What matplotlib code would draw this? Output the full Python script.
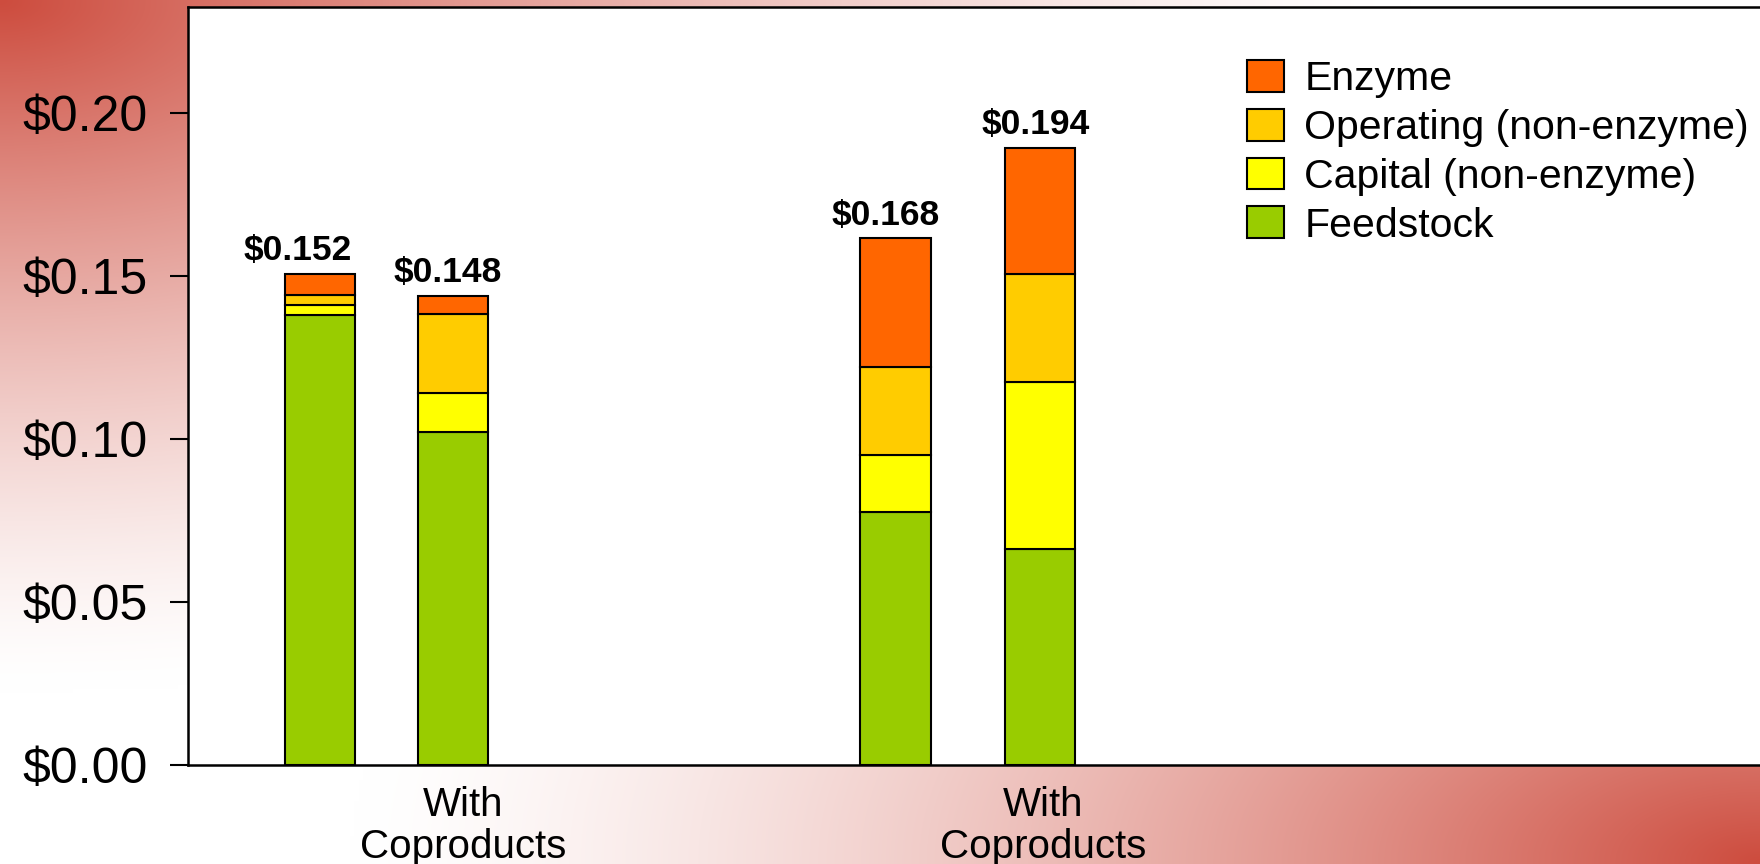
import matplotlib
matplotlib.use("Agg")
import matplotlib.pyplot as plt
import numpy as np

plt.rcParams['font.family'] = ['Liberation Sans', 'DejaVu Sans']

# cost components ($ per unit)
cost_labels = ["$0.152", "$0.148", "$0.168", "$0.194"]
feedstock = [0.1379, 0.1022, 0.0777, 0.0662]
capital = [0.0032, 0.0120, 0.0173, 0.0512]
operating = [0.0032, 0.0240, 0.0272, 0.0332]
enzyme = [0.0062, 0.0058, 0.0393, 0.0386]
group_labels = ["With\nCoproducts", "With\nCoproducts"]
yticks = [0.0, 0.05, 0.10, 0.15, 0.20]

# layout
bar_x = [1.0, 2.0, 5.327, 6.414]
bar_w = 0.53
label_dx = [-0.17, -0.04, -0.07, -0.03]
group_x = [2.075, 6.436]
colors = {"Enzyme": "#FF6600", "Operating (non-enzyme)": "#FFCC00",
          "Capital (non-enzyme)": "#FFFF00", "Feedstock": "#99CC00"}

W, H = 1760, 864
fig = plt.figure(figsize=(W / 100, H / 100), dpi=100)

# background: red in top-left and bottom-right corners fading to white
xx, yy = np.meshgrid(np.linspace(0, 1, 400), np.linspace(0, 1, 200))
r_tl = np.hypot(xx, yy)
r_br = np.hypot(1 - xx, 1 - yy)
w = np.clip(1 - np.minimum(r_tl, r_br) / 0.8, 0, 1) ** 1.4
red = np.array([205, 76, 62]) / 255.0
img = 1 - (1 - red)[None, None, :] * w[..., None]
bg = fig.add_axes([0, 0, 1, 1], zorder=0)
bg.imshow(img, aspect='auto', extent=[0, 1, 0, 1], origin='upper', interpolation='bilinear')
bg.axis('off')

ax = fig.add_axes([188 / W, 1 - 765 / H, 1 - 188 / W, (765 - 7) / H], zorder=1)
ax.set_facecolor('white')

bottom = np.zeros(4)
series = [("Feedstock", feedstock), ("Capital (non-enzyme)", capital),
          ("Operating (non-enzyme)", operating), ("Enzyme", enzyme)]
handles = {}
for name, vals in series:
    b = ax.bar(bar_x, vals, bar_w, bottom=bottom, color=colors[name],
               edgecolor='black', linewidth=1.5, label=name)
    handles[name] = b
    bottom += np.array(vals)

for x, dx, top, lab in zip(bar_x, label_dx, bottom, cost_labels):
    ax.annotate(lab.replace("$", r"\$"), (x + dx, top), xytext=(0, 5), textcoords='offset points',
                ha='center', va='bottom', fontsize=25.5, fontweight='bold')

ax.set_xlim(0.0075, 11.83)
ax.set_ylim(0, 0.2325)
ax.set_yticks(yticks)
ax.set_yticklabels([r"\$%.2f" % v for v in yticks])
ax.set_xticks([])
ax.tick_params(axis='y', direction='out', length=13, width=1.5, pad=16, labelsize=36)

for s in ['left', 'bottom', 'top']:
    ax.spines[s].set_linewidth(1.8)
ax.spines['right'].set_visible(False)

for gx, gl in zip(group_x, group_labels):
    ax.text(gx, -0.0065, gl, ha='center', va='top', fontsize=29, linespacing=1.14,
            clip_on=False)

order = ["Enzyme", "Operating (non-enzyme)", "Capital (non-enzyme)", "Feedstock"]
leg = ax.legend([handles[n] for n in order], order, loc='upper left',
                bbox_to_anchor=(1247 / W, 1 - 60 / H), bbox_transform=fig.transFigure,
                frameon=False, fontsize=29.5, handlelength=0.9, handleheight=0.82,
                handletextpad=0.5, labelspacing=0.26, borderpad=0, borderaxespad=0)

fig.savefig("out.png", dpi=100)
